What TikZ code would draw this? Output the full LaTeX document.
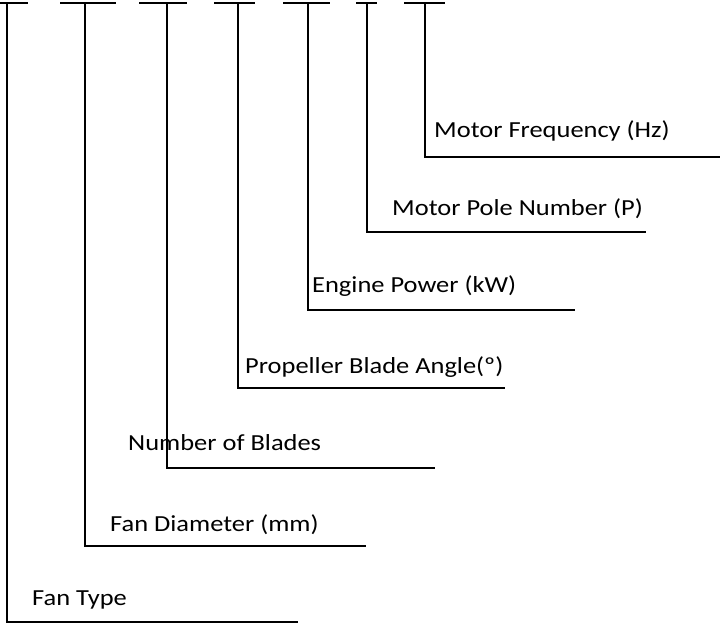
\documentclass[tikz,border=0pt]{standalone}
\usepackage{graphicx}
\usepackage{fontspec}
\setmainfont{Carlito}
\newcommand\widetext[1]{\scalebox{1.15}[1]{#1}}
\begin{document}
\begin{tikzpicture}[x=1pt,y=-1pt,
  leader/.style={line width=1.1pt,black},
  lbl/.style={anchor=base west,inner sep=0pt,font=\fontsize{23}{27}\selectfont}]
\useasboundingbox (0,0) rectangle (720,624);
% top bars and corners
\foreach \n/\l/\r/\v/\b/\e in {a/0/28/7/622/298, b/60/116/85/546/366, c/139/187/167/468/435,
  d/214/255/238/388/505, e/283/330/308/310/575, f/356/377/367/232/646, g/404/445/425/157/720}{
  \coordinate (\n L) at (\l,3);
  \coordinate (\n R) at (\r,3);
  \coordinate (\n T) at (\v,3);
  \coordinate (\n C) at (\v,\b);
  \coordinate (\n E) at (\e,\b);
}
\foreach \n in {a,b,c,d,e,f,g}{
  \draw[leader] (\n L) -- (\n R);
  \draw[leader] (\n T) -- (\n C) -- (\n E);
}
\node[lbl] (tg) at (434,137) {\widetext{Motor Frequency (Hz)}};
\node[lbl] (tf) at (392,215) {\widetext{Motor Pole Number (P)}};
\node[lbl] (te) at (312,292) {\widetext{Engine Power (kW)}};
\node[lbl] (td) at (245,373) {\widetext{Propeller Blade Angle(º)}};
\node[lbl] (tc) at (128,450) {\widetext{Number of Blades}};
\node[lbl] (tb) at (110,531) {\widetext{Fan Diameter (mm)}};
\node[lbl] (ta) at (32,605) {\widetext{Fan Type}};
\end{tikzpicture}
\end{document}
